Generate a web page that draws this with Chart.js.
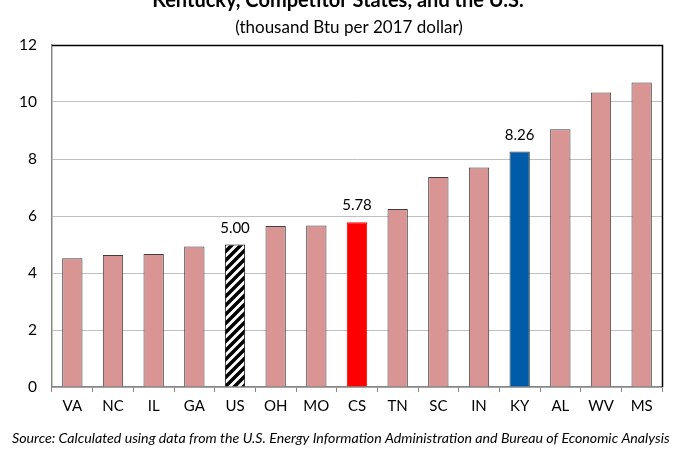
<!DOCTYPE html>
<html>
<head>
<meta charset="utf-8">
<script src="https://cdn.jsdelivr.net/npm/chart.js@4/dist/chart.umd.min.js"></script>
<style>
    html, body { margin: 0; padding: 0; background: #fff; }
    #wrap { width: 684px; height: 457px; position: relative; }
</style>
</head>
<body>
<div id="wrap"><canvas id="energyChart" width="684" height="457"></canvas></div>
<script>
// energy intensity, thousand Btu per 2017 dollar
const states = ['VA', 'NC', 'IL', 'GA', 'US', 'OH', 'MO', 'CS', 'TN', 'SC', 'IN', 'KY', 'AL', 'WV', 'MS'];
const intensity = [4.52, 4.63, 4.67, 4.93, 5.00, 5.65, 5.67, 5.78, 6.25, 7.37, 7.70, 8.26, 9.04, 10.33, 10.68];
const labelled = ['US', 'CS', 'KY'];
const yTicks = [0, 2, 4, 6, 8, 10, 12];

const FONT = 'Lato, Carlito, "Open Sans", sans-serif';

function hatchPattern() {
    const c = document.createElement('canvas');
    c.width = 9;
    c.height = 9;
    const g = c.getContext('2d');
    g.fillStyle = '#fff';
    g.fillRect(0, 0, 9, 9);
    g.strokeStyle = '#000';
    g.lineWidth = 3.5;
    g.beginPath();
    g.moveTo(-2, 11); g.lineTo(11, -2);
    g.moveTo(-2, 2); g.lineTo(2, -2);
    g.moveTo(7, 11); g.lineTo(11, 7);
    g.stroke();
    return g.createPattern(c, 'repeat');
}

const barColors = states.map(s => {
    if (s === 'US') return hatchPattern();
    if (s === 'CS') return '#ff0000';
    if (s === 'KY') return '#005ba9';
    return '#d99594';
});
const borderColors = states.map(s => s === 'US' ? '#000' : (s === 'CS' ? '#ff0000' : '#3f3f3f'));

// titles, value labels, frame and source line
const extras = {
    id: 'extras',
    afterDatasetsDraw(chart) {
        const ctx = chart.ctx;
        const area = chart.chartArea;
        ctx.save();
        // black frame on top and right
        ctx.strokeStyle = '#000';
        ctx.lineWidth = 1.5;
        ctx.beginPath();
        ctx.moveTo(area.left, area.top + 0.5);
        ctx.lineTo(area.right + 0.5, area.top + 0.5);
        ctx.lineTo(area.right + 0.5, area.bottom);
        ctx.stroke();

        ctx.fillStyle = '#000';
        ctx.textAlign = 'center';
        ctx.textBaseline = 'alphabetic';
        ctx.font = '15px ' + FONT;
        const meta = chart.getDatasetMeta(0);
        states.forEach((s, i) => {
            if (!labelled.includes(s)) return;
            const bar = meta.data[i];
            ctx.fillText(intensity[i].toFixed(2), bar.x, bar.y - 12);
        });

        ctx.font = 'bold 20px ' + FONT;
        ctx.fillText('Kentucky, Competitor States, and the U.S.', 338, 7);
        ctx.font = '17px ' + FONT;
        ctx.fillText('(thousand Btu per 2017 dollar)', 349, 33);

        ctx.font = 'italic 14.2px ' + FONT;
        ctx.textAlign = 'left';
        ctx.fillText('Source: Calculated using data from the U.S. Energy Information Administration and Bureau of Economic Analysis', 12, 443);
        ctx.restore();
    }
};

new Chart(document.getElementById('energyChart'), {
    type: 'bar',
    data: {
        labels: states,
        datasets: [{
            data: intensity,
            backgroundColor: barColors,
            borderColor: borderColors,
            borderWidth: 1,
            barPercentage: 0.5,
            categoryPercentage: 1.0
        }]
    },
    options: {
        responsive: false,
        animation: false,
        layout: {
            padding: { top: 45, right: 22, bottom: 37, left: 0 }
        },
        plugins: {
            legend: { display: false },
            tooltip: { enabled: false }
        },
        scales: {
            y: {
                min: 0,
                max: 12,
                afterFit: scale => { scale.width = 52; },
                afterBuildTicks: scale => { scale.ticks = yTicks.map(v => ({ value: v })); },
                grid: {
                    color: '#c0c0c0',
                    lineWidth: 1,
                    drawTicks: false
                },
                border: { color: '#878787', width: 1.5 },
                ticks: {
                    color: '#000',
                    padding: 15,
                    font: { family: FONT, size: 15.5 }
                }
            },
            x: {
                grid: {
                    offset: true,
                    drawOnChartArea: false,
                    drawTicks: true,
                    tickLength: 5,
                    color: '#878787'
                },
                border: { color: '#878787', width: 1.5 },
                ticks: {
                    color: '#000',
                    padding: 5,
                    font: { family: FONT, size: 15 }
                }
            }
        }
    },
    plugins: [extras]
});
</script>
</body>
</html>
